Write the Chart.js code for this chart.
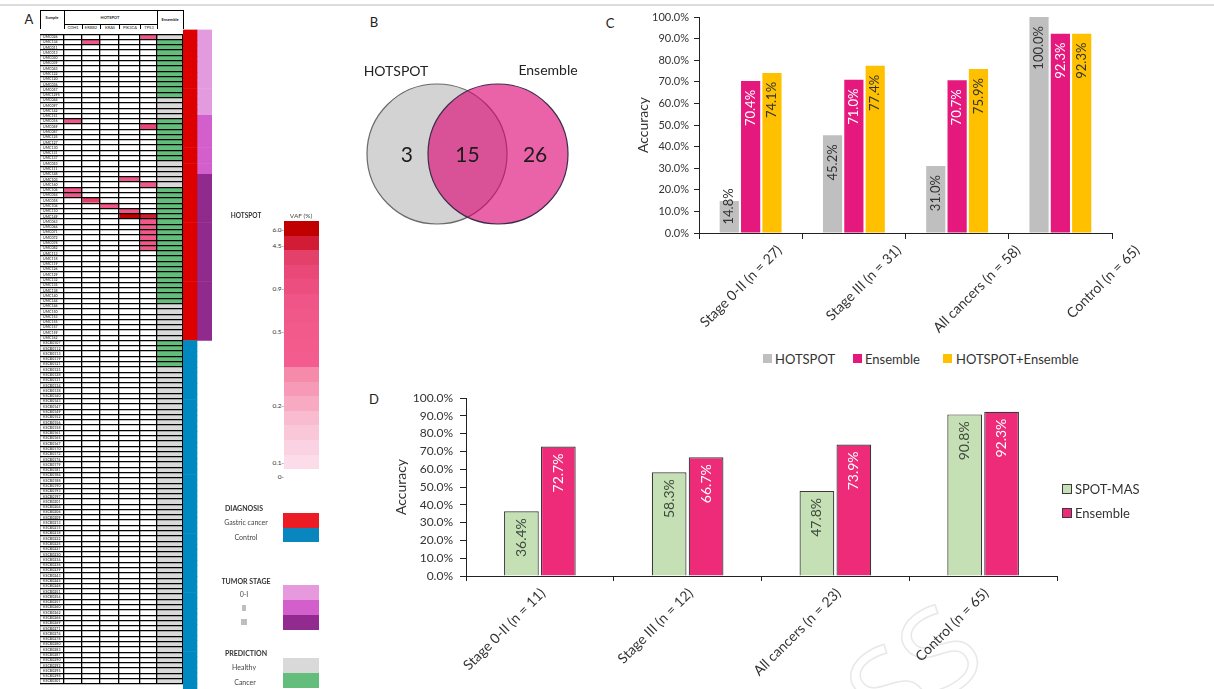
<!DOCTYPE html>
<html>
<head>
<meta charset="utf-8">
<title>HOTSPOT and Ensemble detection of gastric cancer</title>
<script src="https://cdn.jsdelivr.net/npm/chart.js@4.4.1/dist/chart.umd.min.js"></script>
<style>
  html, body { margin: 0; padding: 0; background: #fff; }
  #fig { position: relative; width: 1214px; height: 689px; overflow: hidden;
         font-family: Lato, "Open Sans", sans-serif; color: #333; -webkit-font-smoothing: antialiased; }
  #fig canvas { position: absolute; }
  .t  { position: absolute; white-space: nowrap; line-height: 1; transform: translate(-50%, -50%); }
  .tl { position: absolute; white-space: nowrap; line-height: 1; transform: translateY(-50%); }
  .tr { position: absolute; white-space: nowrap; line-height: 1; transform: translate(-100%, -50%); }
  .tiny { position: absolute; white-space: nowrap; line-height: 1; font-size: 8px; font-weight: 700;
          color: #222; transform: translate(-50%, -50%) scale(0.5); }
  .ln { position: absolute; background: #000; }
  .sw { position: absolute; box-sizing: border-box; }
  .plabel { position: absolute; font-size: 13px; line-height: 1; transform: translate(-50%, -50%); color: #222; }
  .lgA { position: absolute; font-size: 7px; line-height: 1; white-space: nowrap; transform: translate(-50%, -50%);
         color: #444; will-change: transform; }
  .lgA.b { font-weight: 700; color: #333; }
  .wm { position: absolute; font-size: 118px; line-height: 1; color: transparent; white-space: nowrap;
        -webkit-text-stroke: 1.5px #e8e8e8; transform: translate(-50%, -50%) rotate(-38deg); font-family: "Open Sans", sans-serif; }
</style>
</head>
<body>
<div id="fig">
  <div style="position:absolute;left:0;top:4px;width:1214px;height:2px;background:#dcdcdc"></div>
  <div class="wm" style="left:912px;top:668px">SS</div>

  <div class="plabel" style="left:29px;top:19px">A</div>
  <div class="plabel" style="left:374px;top:22px">B</div>
  <div class="plabel" style="left:610px;top:23px">C</div>
  <div class="plabel" style="left:374px;top:399px">D</div>

  <!-- table header -->
  <div id="tblHeader"></div>

  <canvas id="tbl" width="144" height="660" style="left:40px;top:29px"></canvas>
  <canvas id="side" width="29" height="660" style="left:183px;top:29px"></canvas>

  <!-- VAF colour scale -->
  <div class="lgA b" style="left:246px;top:216px;font-size:6.5px">HOTSPOT</div>
  <div class="lgA" style="left:301px;top:216px;font-size:6.5px">VAF (%)</div>
  <div id="vafScale"></div>

  <!-- categorical keys -->
  <div id="keysA"></div>

  <canvas id="venn" width="260" height="308" style="left:340px;top:0px"></canvas>
  <canvas id="chartC" width="614" height="345" style="left:600px;top:0px"></canvas>
  <div id="legendC"></div>
  <canvas id="chartD" width="844" height="309" style="left:370px;top:380px"></canvas>
  <div id="legendD"></div>
</div>

<script>
// ---------------- data ----------------
const geneNames = ['CDH1', 'ERBB2', 'KRAS', 'PIK3CA', 'TP53'];

const cancerIds = [
  'UMC026','UMC134','UMC011','UMC013','UMC030','UMC039','UMC043','UMC122','UMC120','UMC036',
  'UMC057','UMC1295','UMC044','UMC097','UMC142','UMC151','UMC016','UMC069','UMC087','UMC125',
  'UMC127','UMC130','UMC131','UMC137','UMC053','UMC111','UMC148','UMC103','UMC160','UMC106',
  'UMC054','UMC058','UMC104','UMC110','UMC149','UMC063','UMC064','UMC071','UMC072','UMC078',
  'UMC082','UMC113','UMC118','UMC119','UMC126','UMC129','UMC132','UMC135','UMC138','UMC140',
  'UMC144','UMC146','UMC150','UMC153','UMC155','UMC157','UMC159','UMC162'
];
const controlIds = [
  'KSCB0107','KSCB0112','KSCB0113','KSCB0119','KSCB0121','KSCB0125','KSCB0128','KSCB0131','KSCB0134','KSCB0138',
  'KSCB0140','KSCB0143','KSCB0147','KSCB0149','KSCB0152','KSCB0156','KSCB0158','KSCB0161','KSCB0165','KSCB0167',
  'KSCB0170','KSCB0172','KSCB0176','KSCB0179','KSCB0181','KSCB0184','KSCB0188','KSCB0190','KSCB0193','KSCB0197',
  'KSCB0201','KSCB0204','KSCB0206','KSCB0209','KSCB0213','KSCB0215','KSCB0218','KSCB0222','KSCB0225','KSCB0227',
  'KSCB0230','KSCB0234','KSCB0236','KSCB0239','KSCB0243','KSCB0245','KSCB0248','KSCB0251','KSCB0254','KSCB0257',
  'KSCB0260','KSCB0262','KSCB0266','KSCB0269','KSCB0271','KSCB0274','KSCB0278','KSCB0280','KSCB0283','KSCB0287',
  'KSCB0290','KSCB0292','KSCB0295','KSCB0298','KSCB0301'
];

// run-length encoded row annotations, top to bottom
const diagnosisRuns = [['Gastric cancer', 58], ['Control', 65]];
const stageRuns = [['0-I', 16], ['II', 11], ['III', 31]];
const ensembleRuns = [
  ['Healthy', 1], ['Cancer', 11], ['Healthy', 4], ['Cancer', 8], ['Healthy', 5],
  ['Cancer', 22], ['Healthy', 7], ['Cancer', 5], ['Healthy', 60]
];

// HOTSPOT mutation calls: sample, gene, VAF (%)
const hotspotCalls = [
  ['UMC026', 'TP53', 0.6], ['UMC134', 'ERBB2', 0.7], ['UMC016', 'CDH1', 0.6], ['UMC069', 'TP53', 1.6],
  ['UMC103', 'PIK3CA', 0.7], ['UMC160', 'TP53', 0.6], ['UMC106', 'CDH1', 0.6], ['UMC054', 'CDH1', 0.7],
  ['UMC058', 'ERBB2', 3.0], ['UMC104', 'KRAS', 0.6], ['UMC110', 'PIK3CA', 0.8],
  ['UMC149', 'PIK3CA', 6.0], ['UMC149', 'TP53', 4.5],
  ['UMC063', 'TP53', 0.6], ['UMC064', 'TP53', 0.5], ['UMC071', 'TP53', 0.6],
  ['UMC072', 'TP53', 0.55], ['UMC078', 'TP53', 0.7], ['UMC082', 'TP53', 0.6]
];

const vafTickLabels = ['6.0', '4.5', '0.9', '0.5', '0.2', '0.1', '0'];
const vafAnchorValues = [6.0, 4.5, 0.9, 0.5, 0.2, 0.1];

const vennLabels = ['HOTSPOT', 'Ensemble'];
const vennCounts = [3, 15, 26];          // HOTSPOT only, both, Ensemble only

const groupsC = ['Stage 0-II (n = 27)', 'Stage III (n = 31)', 'All cancers (n = 58)', 'Control (n = 65)'];
const hotspotAccC = [14.8, 45.2, 31.0, 100.0];
const ensembleAccC = [70.4, 71.0, 70.7, 92.3];
const combinedAccC = [74.1, 77.4, 75.9, 92.3];

const groupsD = ['Stage 0-II (n = 11)', 'Stage III (n = 12)', 'All cancers (n = 23)', 'Control (n = 65)'];
const spotMasAccD = [36.4, 58.3, 47.8, 90.8];
const ensembleAccD = [72.7, 66.7, 73.9, 92.3];

// ---------------- styling ----------------
const FONT = 'Lato, "Open Sans", sans-serif';
Chart.defaults.font.family = FONT;
Chart.defaults.color = '#333';

const vafBandColors = [
  '#c00000', '#d21c36', '#e3406a', '#e94878', '#ed4e80', '#f05588', '#f0588a', '#f15a8b', '#f25b8c',
  '#f25c8e', '#f58aab', '#f69ab7', '#f8aac3', '#f9bbcf', '#fac7d9', '#fbd2e1', '#fcdce8'
];
const vafAnchorBands = [0, 1, 4, 7, 12, 16];
const vafTickY = [230, 245.7, 289, 332, 405.7, 463, 476.7];
const diagColors = { 'Gastric cancer': '#dd0000', 'Control': '#0089c0' };
const stageColors = { '0-I': '#e39be0', 'II': '#d35fcc', 'III': '#902a8d' };
const predColors = { 'Healthy': '#d9d9d9', 'Cancer': '#63be7b' };
const colWidths = { Sample: 24, CDH1: 18, ERBB2: 18, KRAS: 19, PIK3CA: 21, TP53: 17, Ensemble: 26 };

const expand = runs => runs.flatMap(([v, n]) => Array(n).fill(v));
const rowIds = cancerIds.concat(controlIds);
const diagnosis = expand(diagnosisRuns);
const stage = expand(stageRuns);
const prediction = expand(ensembleRuns);

function vafBand(v) {
  if (v >= vafAnchorValues[0]) return vafAnchorBands[0];
  for (let k = 0; k < vafAnchorValues.length - 1; k++) {
    const hi = vafAnchorValues[k], lo = vafAnchorValues[k + 1];
    if (v <= hi && v >= lo) {
      const t = (hi - v) / (hi - lo);
      return Math.round(vafAnchorBands[k] + t * (vafAnchorBands[k + 1] - vafAnchorBands[k]));
    }
  }
  return vafAnchorBands[vafAnchorBands.length - 1];
}

// ---------------- panel A: header ----------------
(function buildHeader() {
  const h = document.getElementById('tblHeader');
  const add = html => h.insertAdjacentHTML('beforeend', html);
  const line = (l, t, w, hh) => add(`<div class="ln" style="left:${l}px;top:${t}px;width:${w}px;height:${hh}px"></div>`);
  line(40, 10, 144, 1);
  line(40, 10, 1, 19); line(64, 10, 1, 19); line(157, 10, 1, 19); line(183, 10, 1, 19);
  line(64, 24, 93, 1);
  let x = 40 + colWidths.Sample;
  add(`<div class="tiny" style="left:52px;top:17px">Sample</div>`);
  add(`<div class="tiny" style="left:110px;top:17px">HOTSPOT</div>`);
  add(`<div class="tiny" style="left:170px;top:19px">Ensemble</div>`);
  geneNames.forEach((g, i) => {
    const w = colWidths[g];
    add(`<div class="tiny" style="left:${x + w / 2}px;top:26.7px;font-weight:400">${g}</div>`);
    if (i > 0) line(x, 24, 1, 5);
    x += w;
  });
})();

// ---------------- panel A: keys ----------------
(function buildKeys() {
  const vs = document.getElementById('vafScale');
  vafBandColors.forEach((c, i) => {
    vs.insertAdjacentHTML('beforeend',
      `<div class="sw" style="left:284px;top:${221 + i * 14.6}px;width:35px;height:14.9px;background:${c}"></div>`);
  });
  vafTickLabels.forEach((lab, i) => {
    vs.insertAdjacentHTML('beforeend',
      `<div class="tr" style="left:284px;top:${vafTickY[i]}px;font-size:6.5px">${lab}-</div>`);
  });

  const k = document.getElementById('keysA');
  const add = html => k.insertAdjacentHTML('beforeend', html);
  const sw = (t, h, c) => add(`<div class="sw" style="left:283px;top:${t}px;width:36px;height:${h}px;background:${c}"></div>`);
  add(`<div class="lgA b" style="left:244px;top:508px">DIAGNOSIS</div>`);
  add(`<div class="lgA" style="left:246px;top:522px">Gastric cancer</div>`);
  add(`<div class="lgA" style="left:246px;top:537px">Control</div>`);
  sw(513, 14.5, '#ec1c24'); sw(527.5, 14.5, '#0a86be');

  add(`<div class="lgA b" style="left:246px;top:581px">TUMOR STAGE</div>`);
  add(`<div class="lgA" style="left:244px;top:594px">0-I</div>`);
  add(`<div class="lgA" style="left:244px;top:608px">II</div>`);
  add(`<div class="lgA" style="left:244px;top:622px">III</div>`);
  sw(585, 15, '#e699dd'); sw(600, 15, '#d35fcd'); sw(615, 14.5, '#922b8f');

  add(`<div class="lgA b" style="left:246px;top:653px">PREDICTION</div>`);
  add(`<div class="lgA" style="left:244px;top:667px">Healthy</div>`);
  add(`<div class="lgA" style="left:245px;top:682px">Cancer</div>`);
  sw(658, 15, '#d9d9d9'); sw(673, 14.5, '#63be7b');
})();

// ---------------- panel A: heat-map table ----------------
const callColor = {};
hotspotCalls.forEach(([id, g, v]) => { callColor[id + '|' + g] = vafBandColors[vafBand(v)]; });
const colOrder = ['Sample', ...geneNames, 'Ensemble'];
const bounds = [0];
colOrder.forEach(c => bounds.push(bounds[bounds.length - 1] + colWidths[c]));

const tableDatasets = colOrder.map(c => ({
  label: c,
  data: rowIds.map(() => colWidths[c]),
  backgroundColor: rowIds.map((id, r) =>
    c === 'Sample' ? '#ffffff'
      : c === 'Ensemble' ? predColors[prediction[r]]
      : (callColor[id + '|' + c] || '#ffffff'))
}));

new Chart(document.getElementById('tbl'), {
  type: 'bar',
  data: { labels: rowIds, datasets: tableDatasets },
  options: {
    indexAxis: 'y', responsive: false, animation: false, events: [],
    layout: { padding: { top: 0.5, right: 1, bottom: 0, left: 0 } },
    datasets: { bar: { barPercentage: 1, categoryPercentage: 1, borderWidth: 0 } },
    plugins: { legend: { display: false }, tooltip: { enabled: false } },
    scales: {
      x: {
        type: 'linear', stacked: true, min: 0, max: bounds[bounds.length - 1], position: 'top',
        afterBuildTicks: s => { s.ticks = bounds.map(v => ({ value: v })); },
        ticks: { display: false, z: 2 },
        grid: { color: '#000', lineWidth: 1.3, drawTicks: false, z: 2 },
        border: { display: false },
        afterFit: s => { s.height = 0; }
      },
      y: {
        type: 'category', stacked: true,
        grid: { offset: true, color: '#000', lineWidth: 1.2, drawTicks: false, z: 1 },
        border: { display: false },
        ticks: { mirror: true, autoSkip: false, padding: 3, font: { size: 3.6, weight: 'bold' }, color: '#555', z: 3 },
        afterFit: s => { s.width = 0; }
      }
    }
  }
});

new Chart(document.getElementById('side'), {
  type: 'bar',
  data: {
    labels: rowIds,
    datasets: [
      { label: 'Diagnosis', data: rowIds.map(() => 14), backgroundColor: diagnosis.map(d => diagColors[d]) },
      { label: 'Tumor stage', data: rowIds.map(() => 15),
        backgroundColor: rowIds.map((_, r) => stage[r] ? stageColors[stage[r]] : 'rgba(0,0,0,0)') }
    ]
  },
  options: {
    indexAxis: 'y', responsive: false, animation: false, events: [],
    layout: { padding: { top: 0.5, right: 0, bottom: 0, left: 0 } },
    datasets: { bar: { barPercentage: 1, categoryPercentage: 1, borderWidth: 0 } },
    plugins: { legend: { display: false }, tooltip: { enabled: false } },
    scales: {
      x: { display: false, stacked: true, min: 0, max: 29 },
      y: { display: false, stacked: true }
    }
  }
});

// ---------------- panel B: Venn diagram ----------------
const vennText = {
  id: 'vennText',
  afterDatasetsDraw(chart) {
    const { ctx } = chart;
    const a = chart.getDatasetMeta(0).data[0];
    const b = chart.getDatasetMeta(1).data[0];
    const r = a.options.radius;
    ctx.save();
    ctx.fillStyle = '#1c1c1c';
    ctx.textAlign = 'center';
    ctx.textBaseline = 'middle';
    ctx.font = '21px ' + FONT;
    const xs = [a.x - 0.43 * r, (a.x + b.x) / 2, b.x + 0.53 * r];
    vennCounts.forEach((n, i) => ctx.fillText(String(n), xs[i], a.y + 1));
    ctx.font = '14px ' + FONT;
    ctx.fillStyle = '#222';
    ctx.fillText(vennLabels[0], a.x - 41, a.y - 83);
    ctx.fillText(vennLabels[1], b.x + 50, b.y - 84);
    ctx.restore();
  }
};

new Chart(document.getElementById('venn'), {
  type: 'bubble',
  data: {
    datasets: [
      { label: vennLabels[0], data: [{ x: 0, y: 0, r: 70 }], backgroundColor: '#d3d3d3', borderColor: '#6a6a6a',
        borderWidth: 1.2, order: 2, clip: false },
      { label: vennLabels[1], data: [{ x: 1, y: 0, r: 70 }], backgroundColor: 'rgba(221,0,113,0.61)', borderColor: '#3d2b4a',
        borderWidth: 1.2, order: 1, clip: false }
    ]
  },
  options: {
    responsive: false, animation: false, events: [],
    layout: { padding: 0, autoPadding: false },
    plugins: { legend: { display: false }, tooltip: { enabled: false } },
    scales: {
      x: { display: false, min: -97 / 61, max: -97 / 61 + 260 / 61 },
      y: { display: false, min: -1, max: 1 }
    }
  },
  plugins: [vennText]
});

// ---------------- panels C and D: grouped bars ----------------
const barValueLabels = {
  id: 'barValueLabels',
  afterDatasetsDraw(chart, args, opts) {
    const { ctx } = chart;
    ctx.save();
    ctx.font = opts.font;
    chart.data.datasets.forEach((ds, di) => {
      chart.getDatasetMeta(di).data.forEach((bar, i) => {
        const text = ds.data[i].toFixed(1) + '%';
        const w = ctx.measureText(text).width;
        let end = bar.y + opts.gap;
        if (end + w > bar.base - opts.minBottom) end = bar.base - opts.minBottom - w;
        ctx.save();
        ctx.translate(bar.x, end);
        ctx.rotate(-Math.PI / 2);
        ctx.textAlign = 'right';
        ctx.textBaseline = 'middle';
        ctx.fillStyle = ds.labelColor;
        ctx.fillText(text, 0, 0);
        ctx.restore();
      });
    });
    ctx.restore();
  }
};

// slanted category names, anchored by their upper-right corner
const slantedCategoryLabels = {
  id: 'slantedCategoryLabels',
  afterDraw(chart, args, opts) {
    const xs = chart.scales.x;
    const { ctx } = chart;
    ctx.save();
    ctx.font = opts.font;
    ctx.fillStyle = opts.color;
    chart.data.labels.forEach((lab, i) => {
      const x = xs.getPixelForTick(i) + opts.offset + i * opts.drift;
      ctx.save();
      ctx.translate(x, xs.top + opts.pad);
      ctx.rotate(-Math.PI / 4);
      ctx.textAlign = 'right';
      ctx.textBaseline = 'top';
      ctx.fillText(lab, 0, 0);
      ctx.restore();
    });
    ctx.restore();
  }
};

function accuracyAxes(cfg) {
  return {
    x: {
      grid: { offset: true, drawOnChartArea: false, tickLength: cfg.xTick, color: '#222' },
      border: { color: '#222' },
      ticks: { display: cfg.showTicks, maxRotation: 45, minRotation: 45, autoSkip: false, labelOffset: cfg.labelOffset,
               padding: cfg.labelPad, font: { size: 14 }, color: '#333' },
      afterFit: s => { s.height = cfg.xHeight; }
    },
    y: {
      min: 0, max: 100,
      ticks: { stepSize: 10, callback: v => v.toFixed(1) + '%', font: { size: cfg.tickFont }, color: '#333', padding: cfg.tickPad },
      grid: { drawOnChartArea: false, tickLength: cfg.yTick, color: '#222' },
      border: { color: '#222' },
      title: { display: true, text: 'Accuracy', font: { size: 14 }, color: '#333', padding: { top: cfg.titlePad, bottom: 0 } },
      afterFit: s => { s.width = cfg.yWidth; }
    }
  };
}

new Chart(document.getElementById('chartC'), {
  type: 'bar',
  data: {
    labels: groupsC,
    datasets: [
      { label: 'HOTSPOT', data: hotspotAccC, backgroundColor: '#bfbfbf', labelColor: '#333' },
      { label: 'Ensemble', data: ensembleAccC, backgroundColor: '#e5197d', labelColor: '#ffffff' },
      { label: 'HOTSPOT+Ensemble', data: combinedAccC, backgroundColor: '#ffc000', labelColor: '#333' }
    ]
  },
  options: {
    responsive: false, animation: false, events: [],
    layout: { padding: { top: 17, right: 102, bottom: 0, left: 0 } },
    datasets: { bar: { categoryPercentage: 0.62, barPercentage: 0.9, borderWidth: 0 } },
    plugins: { legend: { display: false }, tooltip: { enabled: false },
               barValueLabels: { font: '13px ' + FONT, gap: 9, minBottom: 8 },
               slantedCategoryLabels: { font: '14px ' + FONT, color: '#333', offset: 24, drift: 16, pad: 10 } },
    scales: accuracyAxes({ showTicks: false, xTick: 6, labelOffset: 0, labelPad: 6, xHeight: 112, tickFont: 11, tickPad: 5,
                           yTick: 5, titlePad: 35, yWidth: 99 })
  },
  plugins: [barValueLabels, slantedCategoryLabels]
});

new Chart(document.getElementById('chartD'), {
  type: 'bar',
  data: {
    labels: groupsD,
    datasets: [
      { label: 'SPOT-MAS', data: spotMasAccD, backgroundColor: '#c5e0b4', labelColor: '#404a40' },
      { label: 'Ensemble', data: ensembleAccD, backgroundColor: '#ee2b78', labelColor: '#ffffff' }
    ]
  },
  options: {
    responsive: false, animation: false, events: [],
    layout: { padding: { top: 18, right: 157, bottom: 0, left: 0 } },
    datasets: { bar: { categoryPercentage: 0.5, barPercentage: 0.94, borderWidth: 1.2, borderColor: '#3a3a3a' } },
    plugins: { legend: { display: false }, tooltip: { enabled: false },
               barValueLabels: { font: '14px ' + FONT, gap: 7, minBottom: 8 } },
    scales: accuracyAxes({ showTicks: true, xTick: 5, labelOffset: 3, labelPad: 4, xHeight: 113, tickFont: 12, tickPad: 7,
                           yTick: 6, titlePad: 23, yWidth: 96 })
  },
  plugins: [barValueLabels]
});

// ---------------- legends for C and D ----------------
(function legends() {
  const lc = document.getElementById('legendC');
  const itemsC = [['HOTSPOT', '#bfbfbf', 763, 775], ['Ensemble', '#e5197d', 852.5, 865], ['HOTSPOT+Ensemble', '#ffc000', 943, 956]];
  itemsC.forEach(([t, c, sx, tx]) => {
    lc.insertAdjacentHTML('beforeend',
      `<div class="sw" style="left:${sx}px;top:354px;width:9px;height:9px;background:${c}"></div>` +
      `<div class="tl" style="left:${tx}px;top:358.5px;font-size:13px;color:#333">${t}</div>`);
  });
  const ld = document.getElementById('legendD');
  const itemsD = [['SPOT-MAS', '#c5e0b4', 484], ['Ensemble', '#ee2b78', 508]];
  itemsD.forEach(([t, c, y]) => {
    ld.insertAdjacentHTML('beforeend',
      `<div class="sw" style="left:1062px;top:${y}px;width:10px;height:10px;background:${c};border:1px solid #3a3a3a"></div>` +
      `<div class="tl" style="left:1075px;top:${y + 5}px;font-size:13px;color:#333">${t}</div>`);
  });
})();
</script>
</body>
</html>
